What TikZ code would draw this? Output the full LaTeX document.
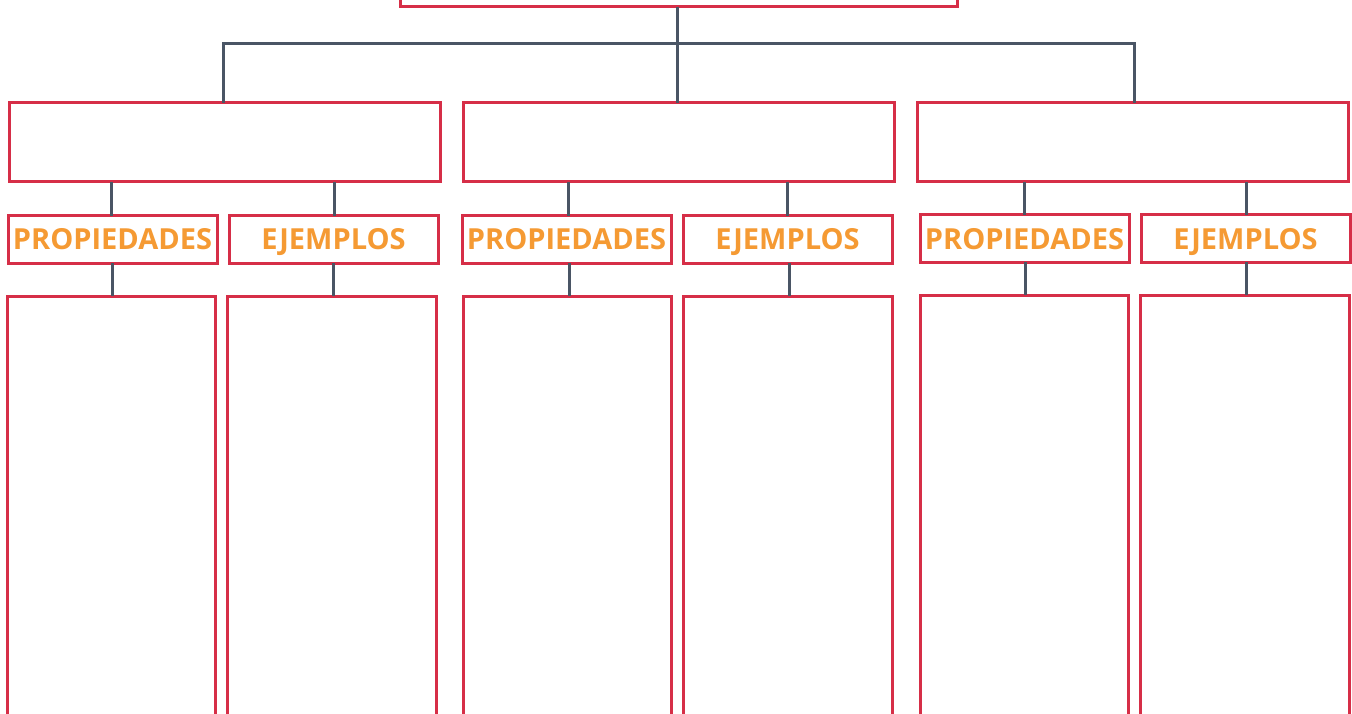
\documentclass[tikz,border=0pt]{standalone}
\usepackage{fontspec}
\setmainfont{Open Sans}
\definecolor{boxred}{HTML}{D62E47}
\definecolor{labelorange}{HTML}{F59A33}
\definecolor{linegray}{HTML}{4A5565}
\begin{document}
\begin{tikzpicture}[x=1pt,y=-1pt,
  box/.style={draw=boxred,line width=3pt,fill=white,inner sep=0pt,outer sep=0pt},
  lbl/.style={box,font=\fontsize{29}{32}\selectfont\bfseries,text=labelorange,
    text height=21pt,text depth=0pt,minimum width=209pt,minimum height=47pt},
  conn/.style={draw=linegray,line width=3pt}]
\useasboundingbox (0,0) rectangle (1352,714);
\clip (0,0) rectangle (1352,714);
% top
\node[box,minimum width=557pt,minimum height=40pt] (top) at (678.5,-13) {};
% level 1
\node[box,minimum width=431pt,minimum height=79pt] (c1) at (224.5,142.5) {};
\node[box,minimum width=431pt,minimum height=79pt] (c2) at (678.5,142.5) {};
\node[box,minimum width=431pt,minimum height=79pt] (c3) at (1132.5,142.5) {};
% labels
\node[lbl] (p1) at (112.5,239.5) {PROPIEDADES};
\node[lbl] (e1) at (333.5,239.5) {EJEMPLOS};
\node[lbl] (p2) at (566.5,239.5) {PROPIEDADES};
\node[lbl] (e2) at (787.5,239.5) {EJEMPLOS};
\node[lbl] (p3) at (1024.5,238.5) {PROPIEDADES};
\node[lbl] (e3) at (1245.5,238.5) {EJEMPLOS};
% tall boxes
\node[box,minimum width=208pt,minimum height=460pt,anchor=north] (t1) at (111,296) {};
\node[box,minimum width=209pt,minimum height=460pt,anchor=north] (t2) at (331.5,296) {};
\node[box,minimum width=208pt,minimum height=460pt,anchor=north] (t3) at (567,296) {};
\node[box,minimum width=209pt,minimum height=460pt,anchor=north] (t4) at (787.5,296) {};
\node[box,minimum width=208pt,minimum height=460pt,anchor=north] (t5) at (1024,295) {};
\node[box,minimum width=209pt,minimum height=460pt,anchor=north] (t6) at (1244.5,295) {};
% connectors
\coordinate (bar) at (677,44);
\draw[conn] (top.south -| bar) -- (c2.north -| bar);
\draw[conn] (c1.north -| 223,0) |- (bar) -| (c3.north -| 1134,0);
\draw[conn] (c1.south -| 111,0) -- (p1.north -| 111,0);
\draw[conn] (c1.south -| 334,0) -- (e1.north -| 334,0);
\draw[conn] (c2.south -| 568,0) -- (p2.north -| 568,0);
\draw[conn] (c2.south -| 787,0) -- (e2.north -| 787,0);
\draw[conn] (c3.south -| 1024,0) -- (p3.north -| 1024,0);
\draw[conn] (c3.south -| 1246,0) -- (e3.north -| 1246,0);
\draw[conn] (p1.south -| 112,0) -- (t1.north -| 112,0);
\draw[conn] (e1.south -| 333,0) -- (t2.north -| 333,0);
\draw[conn] (p2.south -| 569,0) -- (t3.north -| 569,0);
\draw[conn] (e2.south -| 789,0) -- (t4.north -| 789,0);
\draw[conn] (p3.south -| 1025,0) -- (t5.north -| 1025,0);
\draw[conn] (e3.south -| 1246,0) -- (t6.north -| 1246,0);
\end{tikzpicture}
\end{document}
